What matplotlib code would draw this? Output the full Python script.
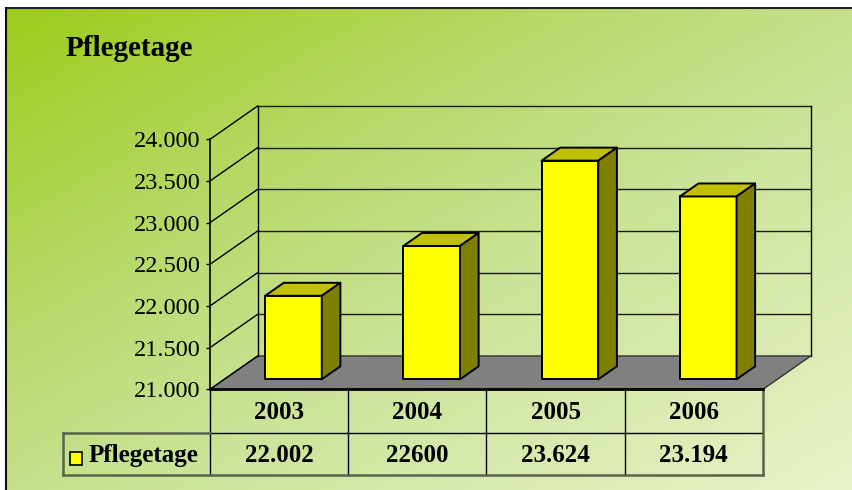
import numpy as np
import matplotlib.pyplot as plt
from matplotlib.patches import Polygon, Rectangle
from matplotlib.ticker import FuncFormatter

plt.rcParams['font.family'] = ['Liberation Serif', 'DejaVu Serif']

# Daten
jahre = ["2003", "2004", "2005", "2006"]
pflegetage = [22002, 22600, 23624, 23194]
tabellen_werte = ["22.002", "22600", "23.624", "23.194"]
serie = "Pflegetage"
y_ticks = [21000, 21500, 22000, 22500, 23000, 23500, 24000]

W, H = 853, 490
fig = plt.figure(figsize=(W / 100, H / 100), dpi=100)

# Hintergrund (Verlauf) und Rahmen
bg = fig.add_axes([0, 0, 1, 1])
bg.set_xlim(0, W)
bg.set_ylim(H, 0)
bg.axis('off')
xx, yy = np.meshgrid(np.linspace(0, 1, W), np.linspace(0, 1, H))
t = (xx + yy) / 2
stops = [0, 0.35, 0.6, 1]
farben = np.array([[156, 204, 26], [185, 218, 110], [205, 228, 155], [232, 242, 200]]) / 255
img = np.dstack([np.interp(t, stops, farben[:, k]) for k in range(3)])
bg.imshow(img, extent=[6, W, H, 8.5], aspect='auto', zorder=0)
bg.plot([6, W], [8.5, 8.5], color='#222222', lw=1.5, zorder=1)
bg.plot([6, 6], [8.5, H], color='#111111', lw=1.5, zorder=1)

bg.text(66, 56, serie, fontsize=21, fontweight='bold', va='baseline', ha='left')

# Tabelle unter dem Diagramm
x_spalten = [210, 348.25, 486.5, 624.75, 763]
inner = dict(color='black', lw=1, zorder=2)
outer = dict(color='#59624c', lw=1.8, zorder=2)
bg.plot([210, 763], [433, 433], **inner)
for xs in x_spalten[:-1]:
    bg.plot([xs, xs], [389, 475], **inner)
bg.plot([763, 763], [389, 475], **outer)
bg.plot([63, 763], [475, 475], **outer)
bg.plot([63, 63], [433, 475], **outer)
bg.plot([63, 210], [433, 433], **outer)
for i, j in enumerate(jahre):
    xm = (x_spalten[i] + x_spalten[i + 1]) / 2
    bg.text(xm, 412, j, fontsize=18, fontweight='bold', ha='center', va='center')
    bg.text(xm, 455, tabellen_werte[i], fontsize=18, fontweight='bold', ha='center', va='center')
bg.add_patch(Rectangle((70, 452), 12, 13, facecolor='#FFFF00', edgecolor='black', lw=1.2, zorder=3))
bg.text(89, 455, serie, fontsize=18, fontweight='bold', ha='left', va='center')

# Diagramm (Vorderebene), Tiefe per schraeger Projektion
ax = fig.add_axes([210 / W, 1 - 389.3 / H, 553 / W, 250 / H])
ax.patch.set_alpha(0)
ax.set_xlim(0, len(jahre))
ax.set_ylim(21000, 24000)
for s in ['top', 'right', 'bottom']:
    ax.spines[s].set_visible(False)
ax.spines['left'].set_linewidth(1.2)
ax.set_xticks([])
ax.set_yticks(y_ticks)
ax.yaxis.set_major_formatter(FuncFormatter(lambda v, p: f"{v:,.0f}".replace(',', '.')))
ax.tick_params(axis='y', length=3, width=1, pad=4, labelsize=17.5)

DX, DY = 0.345, 400  # Verschiebung der Rueckwand
y0 = 21000


def proj(x, v, d):
    return (x + d * DX, v + d * DY)


def poly(pts, **kw):
    ax.add_patch(Polygon([proj(*p) for p in pts], closed=True, clip_on=False, **kw))


n = len(jahre)
# Boden
poly([(0, y0, 0), (n, y0, 0), (n, y0, 1), (0, y0, 1)], facecolor='#808080',
     edgecolor='#333333', lw=1, zorder=1)
# Seitenwand und Rueckwand
for v in y_ticks:
    a, b = proj(0, v, 0), proj(0, v, 1)
    ax.plot([a[0], b[0]], [a[1], b[1]], color='black', lw=1, clip_on=False, zorder=1)
    if v > y0:
        c = proj(n, v, 1)
        ax.plot([b[0], c[0]], [b[1], c[1]], color='#1a1a1a', lw=1, clip_on=False, zorder=1)
for xw in [0, n]:
    a, b = proj(xw, y0, 1), proj(xw, y_ticks[-1], 1)
    ax.plot([a[0], b[0]], [a[1], b[1]], color='black', lw=1, clip_on=False, zorder=1)
a, b = proj(0, y0, 0), proj(n, y0, 0)
ax.plot([a[0], b[0]], [a[1], b[1]], color='black', lw=2, clip_on=False, zorder=2)

# Saeulen
w, d0, d1 = 0.41, 0.3, 0.69
kw = dict(edgecolor='black', lw=1.4, joinstyle='round', zorder=3)
for i, v in enumerate(pflegetage):
    xa, xb = i + 0.5 - w / 2, i + 0.5 + w / 2
    poly([(xa, y0, d0), (xb, y0, d0), (xb, v, d0), (xa, v, d0)], facecolor='#FFFF00', **kw)
    poly([(xa, v, d0), (xb, v, d0), (xb, v, d1), (xa, v, d1)], facecolor='#C0C000', **kw)
    poly([(xb, y0, d0), (xb, y0, d1), (xb, v, d1), (xb, v, d0)], facecolor='#808000', **kw)

fig.savefig('out.png', dpi=100)
